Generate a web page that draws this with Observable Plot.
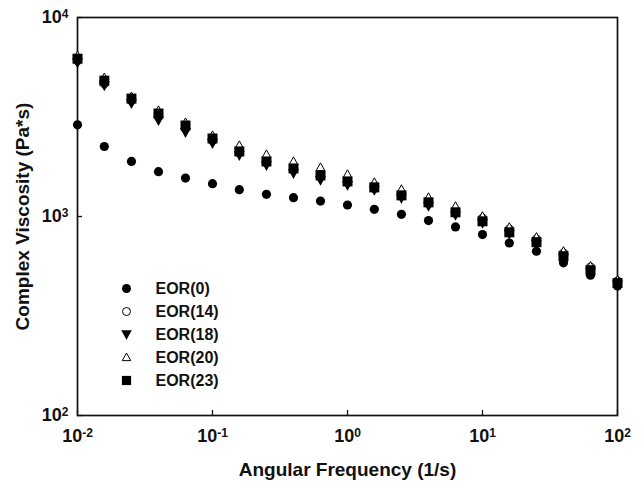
<!DOCTYPE html>
<html><head><meta charset="utf-8">
<script src="https://cdn.jsdelivr.net/npm/d3@7"></script>
<script src="https://cdn.jsdelivr.net/npm/@observablehq/plot@0.6"></script>
<style>body{margin:0;background:#fff} #chart svg{display:block}</style>
</head><body><div id="chart"></div>
<script>
// Angular frequency (1/s)
const freq = [0.01, 0.0158, 0.0251, 0.0398, 0.0631, 0.1, 0.158, 0.251, 0.398, 0.631, 1, 1.58, 2.51, 3.98, 6.31, 10, 15.8, 25.1, 39.8, 63.1, 100];
const seriesNames = ["EOR(0)", "EOR(14)", "EOR(18)", "EOR(20)", "EOR(23)"];
// Complex viscosity (Pa*s)
const eor0  = [2888, 2248, 1891, 1680, 1560, 1462, 1364, 1292, 1244, 1196, 1142, 1087, 1026, 954, 886, 811, 736, 669, 585, 507, 447];
const eor14 = [6067, 4652, 3824, 3179, 2800, 2410, 2098, 1869, 1724, 1590, 1484, 1385, 1277, 1165, 1050, 980, 863, 769, 654, 556, 473];
const eor18 = [5928, 4546, 3693, 3035, 2643, 2328, 2026, 1805, 1646, 1519, 1434, 1353, 1234, 1125, 1014, 924, 814, 726, 617, 525, 452];
const eor20 = [6427, 4986, 4004, 3407, 2966, 2553, 2275, 2050, 1891, 1764, 1628, 1484, 1369, 1248, 1125, 1002, 883, 787, 669, 563, 479];
const eor23 = [6209, 4816, 3913, 3291, 2865, 2466, 2123, 1891, 1744, 1609, 1501, 1401, 1277, 1178, 1050, 946, 833, 743, 632, 537, 463];
const xTicks = [0.01, 0.1, 1, 10, 100];
const yTicks = [100, 1000, 10000];
const xTitle = "Angular Frequency (1/s)";
const yTitle = "Complex Viscosity (Pa*s)";

const values = [eor0, eor14, eor18, eor20, eor23];

const downTri = {draw(ctx, size) { const r = Math.sqrt(size / Math.PI); ctx.moveTo(-r, -0.8 * r); ctx.lineTo(r, -0.8 * r); ctx.lineTo(0, r); ctx.closePath(); }};
const upTri = {draw(ctx, size) { const r = Math.sqrt(size / Math.PI); ctx.moveTo(0, -r); ctx.lineTo(0.95 * r, 0.7 * r); ctx.lineTo(-0.95 * r, 0.7 * r); ctx.closePath(); }};
const square = {draw(ctx, size) { const r = Math.sqrt(size / Math.PI); ctx.rect(-r, -r, 2 * r, 2 * r); }};

const styles = [
  {symbol: "circle", fill: "#000", stroke: "none", r: 4.6},
  {symbol: "circle", fill: "#fff", stroke: "#000", r: 4.1},
  {symbol: downTri, fill: "#000", stroke: "none", r: 5.5},
  {symbol: upTri, fill: "#fff", stroke: "#000", r: 4.6},
  {symbol: square, fill: "#000", stroke: "none", r: 5}
];
const legendStyles = [
  {symbol: "circle", fill: "#000", stroke: "none", r: 4.5},
  {symbol: "circle", fill: "#fff", stroke: "#000", r: 4},
  {symbol: downTri, fill: "#000", stroke: "none", r: 5.3},
  {symbol: upTri, fill: "#fff", stroke: "#000", r: 4.5},
  {symbol: square, fill: "#000", stroke: "none", r: 4.6}
];

const rows = seriesNames.map((name, i) => freq.map((f, j) => ({series: name, x: f, y: values[i][j]})));
const fmt = d => "10^" + Math.round(Math.log10(d));
const font = {fontSize: 16, fontWeight: "bold"};
const tickFont = {fontSize: 18, fontWeight: "bold"};
const titleFont = {fontSize: 19, fontWeight: "bold"};

const marks = [
  Plot.axisX(xTicks, {tickSize: 0, tickPadding: 14, tickFormat: fmt, label: null, ...tickFont}),
  Plot.axisY(yTicks, {tickSize: 0, tickPadding: 9, tickFormat: fmt, label: null, ...tickFont}),
  Plot.tickX(xTicks, {x: d => d, insetTop: 393, strokeWidth: 1.3}),
  Plot.tickY(yTicks, {y: d => d, insetRight: 535, strokeWidth: 1.3}),
  Plot.frame({strokeWidth: 1.7})
];
rows.forEach((data, i) => {
  const s = styles[i];
  marks.push(Plot.dot(data, {x: "x", y: "y", symbol: () => s.symbol, fill: s.fill, stroke: s.stroke, strokeWidth: 1, r: s.r}));
});
seriesNames.forEach((name, i) => {
  const s = legendStyles[i];
  marks.push(Plot.dot([name], {frameAnchor: "top-left", dx: 49, dy: 271 + 23 * i, symbol: () => s.symbol, fill: s.fill, stroke: s.stroke, strokeWidth: 1, r: s.r}));
  marks.push(Plot.text([name], {frameAnchor: "top-left", dx: 78, dy: 271 + 23 * i, text: d => d, textAnchor: "start", lineAnchor: "middle", ...font}));
});
marks.push(Plot.text([xTitle], {frameAnchor: "bottom", dy: 54, text: d => d, textAnchor: "middle", lineAnchor: "middle", ...titleFont}));
marks.push(Plot.text([yTitle], {frameAnchor: "left", dx: -55, rotate: -90, text: d => d, textAnchor: "middle", lineAnchor: "middle", ...titleFont}));

const chart = Plot.plot({
  width: 643, height: 481,
  marginLeft: 77, marginRight: 26, marginTop: 17, marginBottom: 66,
  style: {fontFamily: "'Liberation Sans', Arial, sans-serif", color: "#111", background: "#fff"},
  x: {type: "log", domain: [0.01, 100], axis: null},
  y: {type: "log", domain: [100, 10000], axis: null},
  marks
});
d3.select(chart).selectAll('g[aria-label$="tick label"] text').each(function() {
  const t = this.textContent;
  if (t.startsWith("10^")) {
    const e = t.slice(3);
    const s = d3.select(this);
    s.text("10");
    s.append("tspan").attr("dy", "-0.45em").style("font-size", "12px").text(e);
  }
});
document.getElementById("chart").appendChild(chart);
</script>
</body></html>
